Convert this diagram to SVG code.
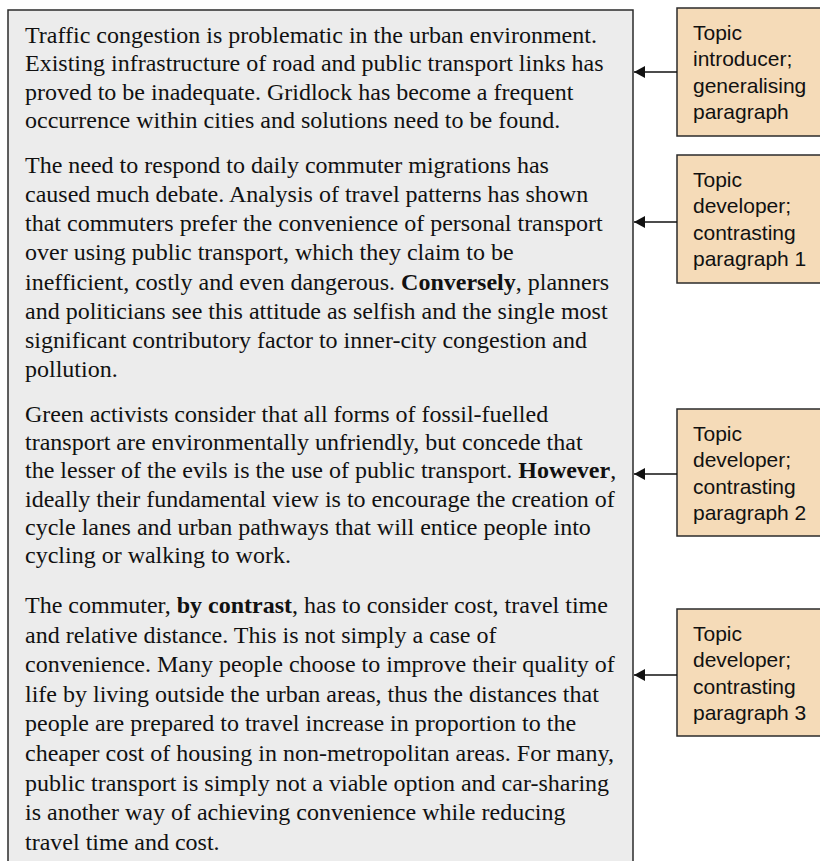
<svg xmlns="http://www.w3.org/2000/svg" width="820" height="861" viewBox="0 0 820 861">
  <style>
    .page { fill: #ececec; stroke: #2b2b2b; stroke-width: 1.5; }
    .body { font-family: "Liberation Serif", "Times New Roman", serif; font-size: 24px; fill: #111; }
    .body .b { font-weight: bold; }
    .note { fill: #f5dbb8; stroke: #2b2b2b; stroke-width: 1.5; }
    .label { font-family: "Liberation Sans", Arial, sans-serif; font-size: 21px; fill: #111; }
    .link { stroke: #111; stroke-width: 1.5; fill: none; marker-end: url(#head); }
  </style>
  <defs>
    <marker id="head" viewBox="0 0 11 12" refX="11" refY="6" markerWidth="11" markerHeight="12" markerUnits="userSpaceOnUse" orient="auto">
      <path d="M0,0 L11,6 L0,12 Z" fill="#111"/>
    </marker>
  </defs>

  <!-- essay text block -->
  <g id="essay">
    <rect class="page" x="8" y="10" width="625" height="870"/>
    <text class="body">
      <tspan x="25" y="43">Traffic congestion is problematic in the urban environment.</tspan>
      <tspan x="25" y="71.3">Existing infrastructure of road and public transport links has</tspan>
      <tspan x="25" y="99.6">proved to be inadequate. Gridlock has become a frequent</tspan>
      <tspan x="25" y="128">occurrence within cities and solutions need to be found.</tspan>
    </text>
    <text class="body">
      <tspan x="25" y="173.3">The need to respond to daily commuter migrations has</tspan>
      <tspan x="25" y="202.3">caused much debate. Analysis of travel patterns has shown</tspan>
      <tspan x="25" y="231.4">that commuters prefer the convenience of personal transport</tspan>
      <tspan x="25" y="260.4">over using public transport, which they claim to be</tspan>
      <tspan x="25" y="289.5">inefficient, costly and even dangerous. <tspan class="b">Conversely</tspan>, planners</tspan>
      <tspan x="25" y="318.5">and politicians see this attitude as selfish and the single most</tspan>
      <tspan x="25" y="347.6">significant contributory factor to inner-city congestion and</tspan>
      <tspan x="25" y="376.6">pollution.</tspan>
    </text>
    <text class="body">
      <tspan x="25" y="421.5">Green activists consider that all forms of fossil-fuelled</tspan>
      <tspan x="25" y="449.9">transport are environmentally unfriendly, but concede that</tspan>
      <tspan x="25" y="478.2">the lesser of the evils is the use of public transport. <tspan class="b">However</tspan>,</tspan>
      <tspan x="25" y="506.6">ideally their fundamental view is to encourage the creation of</tspan>
      <tspan x="25" y="534.9">cycle lanes and urban pathways that will entice people into</tspan>
      <tspan x="25" y="563.3">cycling or walking to work.</tspan>
    </text>
    <text class="body">
      <tspan x="25" y="613">The commuter, <tspan class="b">by contrast</tspan>, has to consider cost, travel time</tspan>
      <tspan x="25" y="642.6">and relative distance. This is not simply a case of</tspan>
      <tspan x="25" y="672.2">convenience. Many people choose to improve their quality of</tspan>
      <tspan x="25" y="701.8">life by living outside the urban areas, thus the distances that</tspan>
      <tspan x="25" y="731.4">people are prepared to travel increase in proportion to the</tspan>
      <tspan x="25" y="761">cheaper cost of housing in non-metropolitan areas. For many,</tspan>
      <tspan x="25" y="790.6">public transport is simply not a viable option and car-sharing</tspan>
      <tspan x="25" y="820.2">is another way of achieving convenience while reducing</tspan>
      <tspan x="25" y="849.8">travel time and cost.</tspan>
    </text>
  </g>

  <!-- margin notes -->
  <g id="note-1">
    <rect class="note" x="677" y="8" width="160" height="128"/>
    <text class="label">
      <tspan x="693" y="40">Topic</tspan>
      <tspan x="693" y="66.3">introducer;</tspan>
      <tspan x="693" y="92.6">generalising</tspan>
      <tspan x="693" y="118.9">paragraph</tspan>
    </text>
  </g>
  <g id="note-2">
    <rect class="note" x="677" y="155" width="160" height="128"/>
    <text class="label">
      <tspan x="693" y="187">Topic</tspan>
      <tspan x="693" y="213.3">developer;</tspan>
      <tspan x="693" y="239.6">contrasting</tspan>
      <tspan x="693" y="265.9">paragraph 1</tspan>
    </text>
  </g>
  <g id="note-3">
    <rect class="note" x="677" y="409" width="160" height="127"/>
    <text class="label">
      <tspan x="693" y="441">Topic</tspan>
      <tspan x="693" y="467.3">developer;</tspan>
      <tspan x="693" y="493.6">contrasting</tspan>
      <tspan x="693" y="519.9">paragraph 2</tspan>
    </text>
  </g>
  <g id="note-4">
    <rect class="note" x="677" y="609" width="160" height="127"/>
    <text class="label">
      <tspan x="693" y="641">Topic</tspan>
      <tspan x="693" y="667.3">developer;</tspan>
      <tspan x="693" y="693.6">contrasting</tspan>
      <tspan x="693" y="719.9">paragraph 3</tspan>
    </text>
  </g>

  <!-- connectors from notes to the text block -->
  <g id="connectors">
    <line class="link" x1="677" y1="72" x2="634" y2="72"/>
    <line class="link" x1="677" y1="222" x2="634" y2="222"/>
    <line class="link" x1="677" y1="474" x2="634" y2="474"/>
    <line class="link" x1="677" y1="675" x2="634" y2="675"/>
  </g>
</svg>
